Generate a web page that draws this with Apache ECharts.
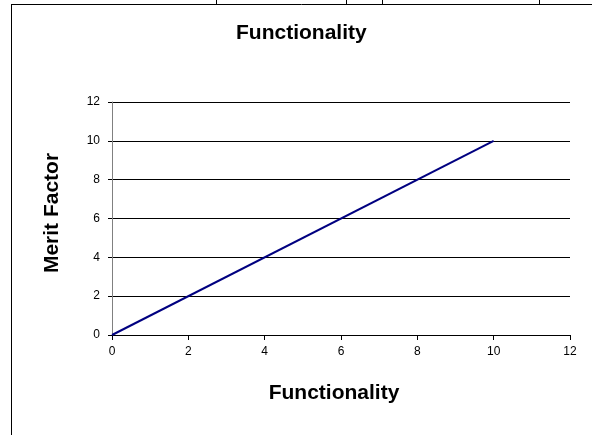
<!DOCTYPE html>
<html>
<head>
<meta charset="utf-8">
<script src="https://cdn.jsdelivr.net/npm/echarts@6/dist/echarts.min.js"></script>
<style>
  html, body { margin: 0; padding: 0; background: #fff; }
  #chart { width: 592px; height: 435px; }
</style>
</head>
<body>
<div id="chart"></div>
<script>
// data
var xValues = [0, 10];
var yValues = [0, 10];
var seriesName = 'Merit Factor';

var points = xValues.map(function (x, i) { return [x, yValues[i]]; });

var myChart = echarts.init(document.getElementById('chart'));
var font = 'Liberation Sans, Arial, sans-serif';
var option = {
    animation: false,
    title: {
        text: 'Functionality',
        left: 231,
        top: 18,
        textStyle: { fontFamily: font, fontSize: 21, fontWeight: 'bold', color: '#000' }
    },
    grid: { left: 112, right: 22, top: 102, bottom: 100 },
    xAxis: {
        type: 'value',
        min: 0, max: 12, interval: 2,
        name: 'Functionality',
        nameLocation: 'middle',
        nameGap: 48,
        nameTextStyle: { fontFamily: font, fontSize: 21, fontWeight: 'bold', color: '#000', padding: [0, 14, 0, 0] },
        axisLine: { lineStyle: { color: '#000', width: 1 } },
        axisTick: { show: true, length: 5, inside: false, lineStyle: { color: '#000' } },
        axisLabel: { fontFamily: font, fontSize: 12, color: '#000', margin: 11 },
        splitLine: { show: false }
    },
    yAxis: {
        type: 'value',
        min: 0, max: 12, interval: 2,
        name: 'Merit Factor',
        nameLocation: 'middle',
        nameGap: 49,
        nameRotate: 90,
        nameTextStyle: { fontFamily: font, fontSize: 21, fontWeight: 'bold', color: '#000', padding: [0, 0, 0, 11] },
        axisLine: { show: true, lineStyle: { color: '#808080', width: 1 } },
        axisTick: { show: true, length: 4, inside: false, lineStyle: { color: '#000' } },
        axisLabel: { fontFamily: font, fontSize: 12, color: '#000', margin: 12 },
        splitLine: { show: true, lineStyle: { color: '#000', width: 1 } }
    },
    series: [{
        name: seriesName,
        type: 'line',
        data: points,
        symbol: 'none',
        lineStyle: { color: '#000080', width: 2 }
    }],
    graphic: [
        { type: 'line', shape: { x1: 11, y1: 4.5, x2: 592, y2: 4.5 }, style: { stroke: '#000', lineWidth: 1 } },
        { type: 'line', shape: { x1: 11.5, y1: 4, x2: 11.5, y2: 435 }, style: { stroke: '#000', lineWidth: 1 } },
        { type: 'line', shape: { x1: 216.5, y1: 0, x2: 216.5, y2: 4 }, style: { stroke: '#000', lineWidth: 1 } },
        { type: 'line', shape: { x1: 346.5, y1: 0, x2: 346.5, y2: 4 }, style: { stroke: '#000', lineWidth: 1 } },
        { type: 'line', shape: { x1: 382.5, y1: 0, x2: 382.5, y2: 4 }, style: { stroke: '#000', lineWidth: 1 } },
        { type: 'line', shape: { x1: 539.5, y1: 0, x2: 539.5, y2: 4 }, style: { stroke: '#000', lineWidth: 1 } }
    ]
};
myChart.setOption(option);
</script>
</body>
</html>
